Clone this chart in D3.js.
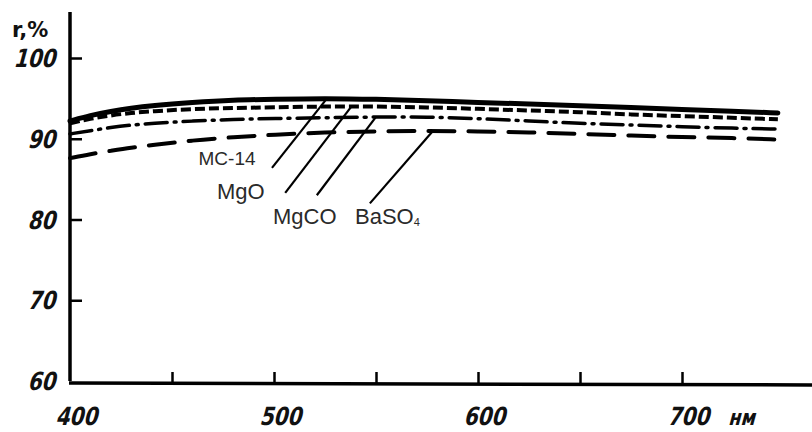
<!DOCTYPE html>
<html>
<head>
<meta charset="utf-8">
<script src="https://cdn.jsdelivr.net/npm/d3@7"></script>
<style>
  body { margin: 0; background: #fff; }
  .num { font-family: "DejaVu Sans", sans-serif; font-weight: bold; font-size: 25px; fill: #111; }
  .lbl { font-family: "Liberation Sans", Arial, sans-serif; fill: #2a2a2a; }
</style>
</head>
<body>
<svg id="chart" width="812" height="432"></svg>
<script>
// Wavelength samples, nm
var wavelengths = [400, 410, 420, 430, 440, 460, 480, 500, 525, 550, 575, 600, 625, 650, 675, 700, 725, 747];

// Reflectance, %
var mc14  = [92.2, 92.9, 93.4, 93.8, 94.1, 94.5, 94.8, 94.9, 95.0, 94.9, 94.7, 94.5, 94.3, 94.1, 93.9, 93.6, 93.4, 93.2];
var mgo   = [91.9, 92.5, 92.9, 93.2, 93.4, 93.7, 93.8, 93.9, 94.0, 94.0, 93.9, 93.7, 93.5, 93.3, 93.0, 92.8, 92.6, 92.4];
var mgco  = [90.6, 91.0, 91.4, 91.7, 91.9, 92.2, 92.4, 92.5, 92.6, 92.7, 92.7, 92.5, 92.2, 91.9, 91.7, 91.5, 91.3, 91.2];
var baso4 = [87.6, 88.1, 88.5, 88.9, 89.2, 89.8, 90.2, 90.5, 90.8, 90.9, 91.0, 90.9, 90.8, 90.6, 90.4, 90.2, 90.1, 89.9];

var yTicks = [100, 90, 80, 70, 60];
var xTicks = [450, 500, 550, 600, 650, 700];
var xLabels = [400, 500, 600, 700];

// Curve labels: text anchor, leader foot (both in nm / %), and nm where the leader meets its curve
var labelNames   = ["MC-14", "MgO", "MgCO", "BaSO"];
var labelAt      = [[463, 86.7], [472, 82.5], [499.5, 79.4], [539.7, 79.4]];
var leaderFoot   = [[499, 86.4], [505.5, 83.3], [521, 83.0], [547, 82.0]];
var leaderTopNm  = [526, 538, 550, 578];

var svg = d3.select("#chart");

var x = d3.scaleLinear().domain([400, 700]).range([70, 682]);
var y = d3.scaleLinear().domain([60, 100]).range([381, 58]);

var series = [
    { values: mc14,  width: 5,   dash: null,        cap: "round" },
    { values: mgo,   width: 4,   dash: "10,4",      cap: "butt" },
    { values: mgco,  width: 3.5, dash: "22,7,2,7",  cap: "round" },
    { values: baso4, width: 4,   dash: "26,14",     cap: "round" }
];

var line = d3.line()
    .x(function(d) { return x(d[0]) })
    .y(function(d) { return y(d[1]) })
    .curve(d3.curveBasis);

series.forEach(function(s) {
    svg.append("path")
        .datum(wavelengths.map(function(w, i) { return [w, s.values[i]] }))
        .attr("d", line)
        .attr("fill", "none")
        .attr("stroke", "#000")
        .attr("stroke-width", s.width)
        .attr("stroke-linecap", s.cap)
        .attr("stroke-dasharray", s.dash);
});

// Axes, drawn as plain lines to keep the hand-drawn look
svg.append("line")
    .attr("x1", x(400)).attr("x2", x(400))
    .attr("y1", y(60)).attr("y2", y(105.7))
    .attr("stroke", "#000").attr("stroke-width", 3.5);

svg.append("line")
    .attr("x1", x(400) - 1).attr("x2", x(765))
    .attr("y1", y(60) + 2).attr("y2", y(60) + 4)
    .attr("stroke", "#000").attr("stroke-width", 3.5);

var yAxis = d3.axisRight(y).tickValues(yTicks.slice(0, 4)).tickSize(12).tickFormat("");
svg.append("g")
    .attr("transform", "translate(" + x(400) + ",0)")
    .call(yAxis)
    .call(function(g) { g.select(".domain").remove() })
    .selectAll("line").attr("stroke", "#000").attr("stroke-width", 2.5);

var xAxis = d3.axisTop(x).tickValues(xTicks).tickSize(12).tickFormat("");
svg.append("g")
    .attr("transform", "translate(0," + (y(60) + 3) + ")")
    .call(xAxis)
    .call(function(g) { g.select(".domain").remove() })
    .selectAll("line").attr("stroke", "#000").attr("stroke-width", 2.5);

// Slanted, narrow hand-lettered numbers
function slant(px, py) {
    return "translate(" + px + "," + py + ") skewX(-15) scale(0.8,1)";
}

svg.selectAll(".ylab")
    .data(yTicks)
    .enter().append("text")
    .attr("class", "num")
    .attr("transform", function(d) { return slant(x(400) - 15, y(d) + 9) })
    .attr("text-anchor", "end")
    .text(function(d) { return d });

svg.selectAll(".xlab")
    .data(xLabels)
    .enter().append("text")
    .attr("class", "num")
    .attr("transform", function(d) { return slant(x(d) + 6, y(60) + 44) })
    .attr("text-anchor", "middle")
    .text(function(d) { return d });

svg.append("text")
    .attr("class", "num")
    .attr("transform", slant(x(700) + 46, y(60) + 44))
    .style("font-size", "22px")
    .text("нм");

svg.append("text")
    .attr("class", "num")
    .attr("x", 12)
    .attr("y", 37)
    .style("font-size", "21px")
    .text("r,%");

// Curve labels with leader lines
labelNames.forEach(function(name, i) {
    var s = series[i].values;
    var j = d3.bisectRight(wavelengths, leaderTopNm[i]) - 1;
    var t = (leaderTopNm[i] - wavelengths[j]) / (wavelengths[j + 1] - wavelengths[j]);
    var v = s[j] + (s[j + 1] - s[j]) * t;

    svg.append("line")
        .attr("x1", x(leaderFoot[i][0])).attr("y1", y(leaderFoot[i][1]))
        .attr("x2", x(leaderTopNm[i])).attr("y2", y(v))
        .attr("stroke", "#000").attr("stroke-width", 2.2);

    var txt = svg.append("text")
        .attr("class", "lbl")
        .attr("x", x(labelAt[i][0]))
        .attr("y", y(labelAt[i][1]))
        .style("font-size", i == 0 ? "19px" : "22px")
        .text(name);
    if (name == "BaSO") {
        txt.append("tspan").attr("dy", 2).style("font-size", "11px").text("4");
    }
});
</script>
</body>
</html>
